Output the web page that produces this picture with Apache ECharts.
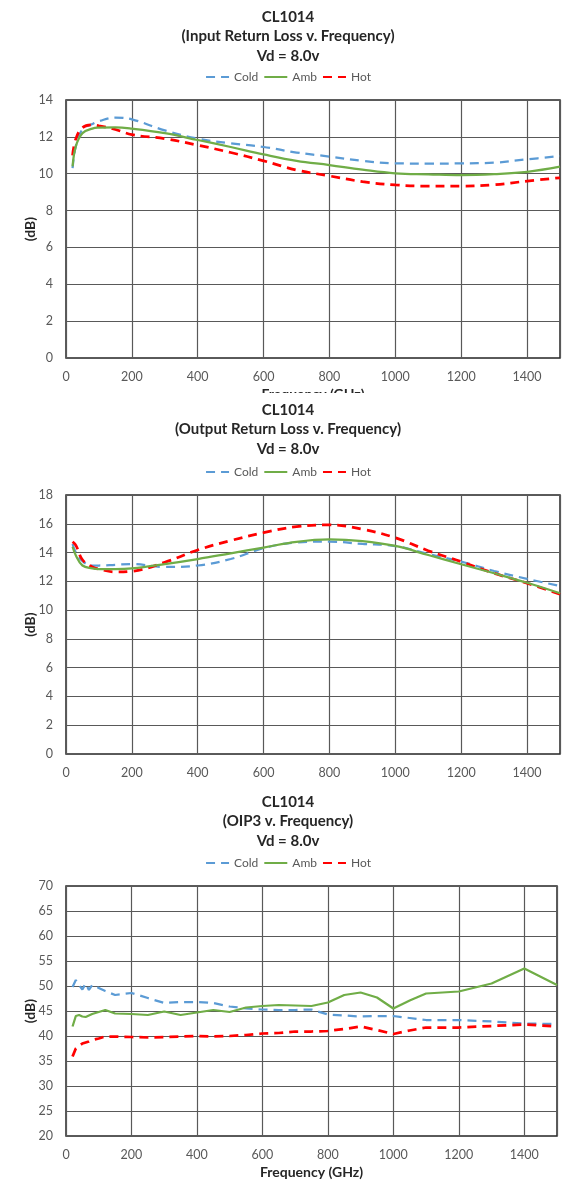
<!DOCTYPE html>
<html><head><meta charset="utf-8">
<script src="https://cdn.jsdelivr.net/npm/echarts@6/dist/echarts.min.js"></script>
<style>
html,body{margin:0;padding:0;background:#fff;width:576px;height:1190px;overflow:hidden;position:relative}
.p{position:absolute;left:0;width:576px;background:#fff}
#c1{top:0;height:420px;z-index:1}
#c2{top:393px;height:420px;z-index:2}
#c3{top:778px;height:412px;z-index:3}
</style></head><body>
<div id="c1" class="p"></div><div id="c2" class="p"></div><div id="c3" class="p"></div>
<script>
// ---- Data ----
const seriesNames = ['Cold', 'Amb', 'Hot'];
const xTicks = [0, 200, 400, 600, 800, 1000, 1200, 1400];

// Chart 1: Input Return Loss
const irlFreq = [20,30,50,80,100,150,200,300,400,500,600,700,800,900,1000,1100,1200,1300,1400,1500];
const irlCold = [10.3,11.5,12.4,12.7,12.85,13.05,12.95,12.35,11.9,11.65,11.45,11.15,10.93,10.7,10.56,10.55,10.56,10.6,10.78,10.96];
const irlAmb  = [10.4,11.5,12.2,12.45,12.5,12.52,12.45,12.2,11.83,11.45,11.05,10.7,10.47,10.22,10.02,9.97,9.93,9.98,10.1,10.38];
const irlHot  = [11.0,11.9,12.5,12.65,12.6,12.4,12.12,11.9,11.55,11.15,10.7,10.2,9.88,9.57,9.39,9.33,9.33,9.4,9.6,9.78];

// Chart 2: Output Return Loss
const orlFreq = [20,30,50,80,100,150,200,300,400,500,600,700,800,900,1000,1100,1200,1300,1400,1500];
const orlCold = [14.6,14.0,13.4,13.1,13.1,13.15,13.2,13.0,13.1,13.55,14.3,14.7,14.76,14.6,14.45,13.9,13.37,12.72,12.17,11.68];
const orlAmb  = [14.4,13.8,13.1,12.9,12.85,12.85,12.9,13.2,13.55,13.95,14.35,14.75,14.92,14.8,14.46,13.83,13.19,12.56,11.9,11.17];
const orlHot  = [14.75,14.5,13.5,13.0,12.85,12.65,12.7,13.32,14.18,14.83,15.38,15.8,15.92,15.62,15.03,14.13,13.37,12.56,11.87,11.1];

// Chart 3: OIP3
const oipFreq = [20,30,40,50,60,70,80,100,120,150,200,250,300,350,400,450,500,550,600,650,700,750,800,850,900,950,1000,1050,1100,1200,1300,1400,1500];
const oipCold = [49.8,51.2,50.2,49.3,50.5,49.2,50.2,49.6,49.0,48.2,48.6,47.6,46.6,46.8,46.8,46.6,45.9,45.5,45.3,45.2,45.2,45.3,44.3,44.1,43.9,44.0,44.0,43.6,43.2,43.2,42.9,42.5,42.4];
const oipAmb  = [41.9,44.0,44.2,43.9,43.8,44.1,44.4,44.8,45.2,44.5,44.4,44.2,44.9,44.2,44.7,45.2,44.8,45.7,46.0,46.2,46.1,46.0,46.7,48.2,48.7,47.7,45.5,47.1,48.5,48.9,50.5,53.5,50.2];
const oipHot  = [35.9,37.5,38.0,38.5,38.7,38.9,39.2,39.5,39.9,39.9,39.8,39.7,39.8,39.9,40.0,39.9,40.0,40.2,40.5,40.6,40.9,40.9,41.0,41.4,41.9,41.2,40.4,41.1,41.7,41.7,42.0,42.3,41.9];

const colors = {Cold:'#5B9BD5', Amb:'#70AD47', Hot:'#FF0000'};
const FONT = 'Lato';

function pairs(xs, ys){ return xs.map((x,i)=>[x, ys[i]]); }

function makeSeries(freq, vals, smooth){
  return seriesNames.map((n,i)=>({
    name:n, type:'line', showSymbol:false, symbol:'none', smooth:smooth,
    data:pairs(freq, vals[i]),
    lineStyle:{color:colors[n], width: n==='Hot'?2.75:2.25, type: n==='Amb'?'solid':[9,6], cap:'butt'},
    itemStyle:{color:colors[n]},
    z: n==='Hot'?3:(n==='Amb'?4:2)
  }));
}

function makeOption(c){
  return {
    animation:false,
    textStyle:{fontFamily:FONT},
    title:{text:c.title, left:'center', top:c.titleTop,
      textStyle:{fontFamily:FONT, fontSize:15, fontWeight:'bold', color:'#262626', lineHeight:19.5}},
    legend:{top:c.legendTop, left:'center', itemWidth:23, itemHeight:10, itemGap:5,
      itemStyle:{opacity:0},
      textStyle:{fontFamily:FONT, color:'#595959', fontSize:12}, data:seriesNames},
    grid:{left:66, top:c.gridTop, width:c.gridW, height:c.gridH, show:true, borderColor:'#262626', borderWidth:1.5},
    xAxis:{type:'value', min:0, max:1500, interval:200,
      axisLine:{show:false}, axisTick:{show:false},
      axisLabel:{fontFamily:FONT, color:'#595959', fontSize:12.5, margin:12, showMaxLabel:false,
        formatter:v=> xTicks.indexOf(v)>=0 ? String(v) : ''},
      splitLine:{show:true, lineStyle:{color:'#595959', width:1.2}},
      name:c.xName, nameLocation:'middle', nameGap:29, nameMoveOverlap:false,
      nameTextStyle:{fontFamily:FONT, fontWeight:'bold', fontSize:14, color:'#262626'}},
    yAxis:{type:'value', min:c.yMin, max:c.yMax, interval:c.yInt,
      axisLine:{show:false}, axisTick:{show:false},
      axisLabel:{fontFamily:FONT, color:'#595959', fontSize:12.5, margin:13},
      splitLine:{show:true, lineStyle:{color:'#595959', width:1.2}},
      name:'(dB)', nameLocation:'middle', nameGap:29, nameMoveOverlap:false,
      nameTextStyle:{fontFamily:FONT, fontWeight:'bold', fontSize:14, color:'#262626'}},
    series:c.series
  };
}

const ch1 = echarts.init(document.getElementById('c1'), null, {renderer:'canvas'});
ch1.setOption(makeOption({
  title:'CL1014\n(Input Return Loss v. Frequency)\nVd = 8.0v', titleTop:2, legendTop:66,
  gridTop:100, gridW:494, gridH:258, yMin:0, yMax:14, yInt:2, xName:'Frequency (GHz)',
  series:makeSeries(irlFreq, [irlCold, irlAmb, irlHot], 0.4)
}));

const ch2 = echarts.init(document.getElementById('c2'), null, {renderer:'canvas'});
ch2.setOption(makeOption({
  title:'CL1014\n(Output Return Loss v. Frequency)\nVd = 8.0v', titleTop:2, legendTop:68,
  gridTop:102, gridW:494, gridH:259, yMin:0, yMax:18, yInt:2, xName:'Frequency (GHz)',
  series:makeSeries(orlFreq, [orlCold, orlAmb, orlHot], 0.4)
}));

const ch3 = echarts.init(document.getElementById('c3'), null, {renderer:'canvas'});
ch3.setOption(makeOption({
  title:'CL1014\n(OIP3 v. Frequency)\nVd = 8.0v', titleTop:9, legendTop:74,
  gridTop:108, gridW:491, gridH:250, yMin:20, yMax:70, yInt:5, xName:'Frequency (GHz)',
  series:makeSeries(oipFreq, [oipCold, oipAmb, oipHot], false)
}));
</script>
</body></html>
